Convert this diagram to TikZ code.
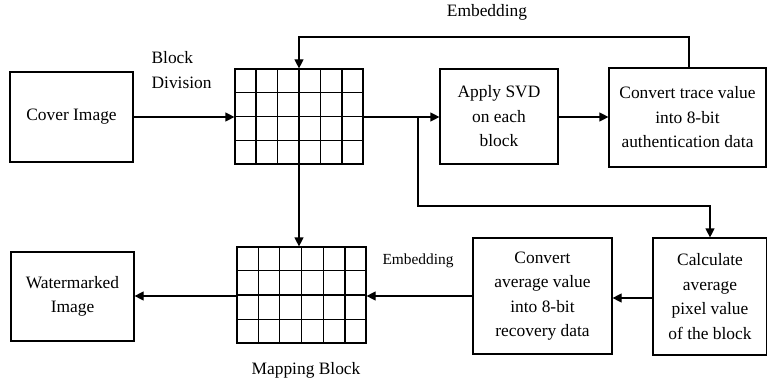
\documentclass[tikz,border=0pt]{standalone}
\usepackage{fontspec}
\setmainfont{Liberation Serif}
\usetikzlibrary{arrows.meta,calc}
\begin{document}
\begin{tikzpicture}[x=1pt,y=1pt,
  line width=1.2pt,
  box/.style={draw, rectangle, align=center, inner sep=0pt,
    font=\fontsize{17.4}{24.5}\selectfont},
  lbl/.style={inner sep=0pt, font=\fontsize{17.4}{24.5}\selectfont},
  arr/.style={-{Triangle[length=9pt,width=9pt]}},
  gridbox/.style={draw, rectangle, inner sep=0pt, minimum width=128pt, minimum height=95pt}
]
\useasboundingbox (0,0) rectangle (767,-387);

% boxes
\node[box, minimum width=123pt, minimum height=90pt] (cover) at (71.5,-117) {Cover Image};
\node[box, minimum width=123pt, minimum height=89pt] (wm) at (72.5,-296.5) {Watermarked\\Image};
\node[box, minimum width=118pt, minimum height=95pt] (svd) at (499,-116.5) {Apply SVD\\on each\\block};
\node[box, minimum width=157pt, minimum height=99pt] (trace) at (687.5,-117.5) {Convert trace value\\into 8-bit\\authentication data};
\node[box, minimum width=114pt, minimum height=117pt] (calc) at (710,-296.5) {Calculate\\average\\pixel value\\of the block};
\node[box, minimum width=139pt, minimum height=116pt] (avg) at (542.5,-296) {Convert\\average value\\into 8-bit\\recovery data};

% grids
\node[gridbox] (grid1) at (299,-116.5) {};
\node[gridbox, minimum width=129pt, minimum height=96pt] (grid2) at (301.5,-295) {};
\foreach \g in {grid1,grid2}{
  \foreach \i in {1,...,5}{
    \draw ($(\g.south west)!\i/6!(\g.south east)$) -- ($(\g.north west)!\i/6!(\g.north east)$);
  }
  \foreach \j in {1,...,3}{
    \draw ($(\g.south west)!\j/4!(\g.north west)$) -- ($(\g.south east)!\j/4!(\g.north east)$);
  }
}

% labels
\node[lbl, align=left, anchor=west] (bdiv) at (151,-70) {Block\\Division};
\node[lbl] (emb1) at (487,-12) {Embedding};
\node[lbl, font=\fontsize{15.4}{20}\selectfont] (emb2) at (418,-261) {Embedding};
\node[lbl] (map) at (306,-370) {Mapping Block};

% coordinates
\coordinate (br) at (418,-117);
\coordinate (topy) at (0,-37);
\coordinate (midy) at (0,-206);
\coordinate (tx) at (689,0);
\coordinate (y298) at (0,-298);
\coordinate (y296) at (0,-296);

% connectors
\draw[arr] (cover.east) -- (cover.east -| grid1.west);
\draw[arr] (grid1.east |- br) -- (svd.west |- br);
\draw[arr] (br) -- (br |- midy) -| (calc.north);
\draw[arr] (svd.east |- br) -- (trace.west |- br);
\draw[arr] (tx |- trace.north) -- (tx |- topy) -- (grid1.north |- topy) -- (grid1.north);
\draw[arr] (grid1.south) -- (grid1.south |- grid2.north);
\draw[arr] (calc.west |- y298) -- (avg.east |- y298);
\draw[arr] (avg.west |- y296) -- (grid2.east |- y296);
\draw[arr] (grid2.west |- y296) -- (wm.east |- y296);
\end{tikzpicture}
\end{document}
